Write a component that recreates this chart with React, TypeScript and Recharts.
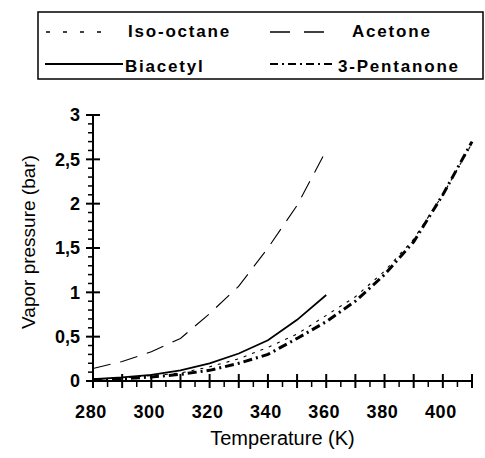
import React from "react";
import { LineChart, Line, XAxis, YAxis, Label } from "recharts";

// temperatures (K) at which the curves were read
const temperatures = [280, 290, 300, 310, 320, 330, 340, 350, 360, 370, 380, 390, 400, 410];

// vapor pressure (bar); null = no data
const isoOctane = [0.02, 0.035, 0.06, 0.09, 0.16, 0.25, 0.38, 0.53, 0.74, 0.95, 1.24, 1.6, 2.1, 2.68];
const acetone = [0.14, 0.22, 0.33, 0.48, 0.76, 1.07, 1.5, 1.98, 2.6, null, null, null, null, null];
const biacetyl = [0.02, 0.04, 0.07, 0.12, 0.2, 0.31, 0.46, 0.69, 0.97, null, null, null, null, null];
const pentanone = [0.01, 0.025, 0.045, 0.075, 0.12, 0.2, 0.3, 0.48, 0.67, 0.9, 1.2, 1.57, 2.1, 2.7];

const xTicks = [
  280, 285, 290, 295, 300, 305, 310, 315, 320, 325, 330, 335, 340, 345,
  350, 355, 360, 365, 370, 375, 380, 385, 390, 395, 400, 405, 410,
];
const xLabels = [280, 300, 320, 340, 360, 380, 400];
const yTicks = [
  0, 0.1, 0.2, 0.3, 0.4, 0.5, 0.6, 0.7, 0.8, 0.9, 1, 1.1, 1.2, 1.3, 1.4, 1.5,
  1.6, 1.7, 1.8, 1.9, 2, 2.1, 2.2, 2.3, 2.4, 2.5, 2.6, 2.7, 2.8, 2.9, 3,
];
const yLabels = ["0", "0,5", "1", "1,5", "2", "2,5", "3"];

const data = temperatures.map((t, i) => ({
  t,
  iso: isoOctane[i],
  acetone: acetone[i],
  biacetyl: biacetyl[i],
  pentanone: pentanone[i],
}));

const FONT = "'Liberation Sans', Arial, sans-serif";

const series = [
  { key: "iso", name: "Iso-octane", dash: "3 6", legendDash: "4 13", width: 1.1 },
  { key: "acetone", name: "Acetone", dash: "18 10", legendDash: "20 14", width: 1.1 },
  { key: "biacetyl", name: "Biacetyl", dash: undefined, legendDash: undefined, width: 1.8 },
  { key: "pentanone", name: "3-Pentanone", dash: "9 4 2 4", legendDash: "8 4 2 4", width: 3 },
];

const YTick = (props: any) => {
  const { x, y, payload } = props;
  const v = payload.value;
  const major = Math.abs(v * 2 - Math.round(v * 2)) < 1e-6;
  if (!major) {
    return <line x1={x - 5} x2={x} y1={y} y2={y} stroke="#000" strokeWidth={1.5} />;
  }
  return (
    <g>
      <line x1={x - 7} x2={x + 7} y1={y} y2={y} stroke="#000" strokeWidth={2} />
      <text
        x={x - 13}
        y={y}
        dy="0.36em"
        textAnchor="end"
        fontFamily={FONT}
        fontWeight="bold"
        fontSize={18}
        fill="#000"
      >
        {yLabels[Math.round(v * 2)]}
      </text>
    </g>
  );
};

const XTick = (props: any) => {
  const { x, y, payload } = props;
  const v = payload.value;
  const major = v % 10 === 0;
  return (
    <g>
      {major ? (
        <line x1={x} x2={x} y1={y - 7} y2={y + 7} stroke="#000" strokeWidth={2} />
      ) : (
        <line x1={x} x2={x} y1={y} y2={y + 6} stroke="#000" strokeWidth={1.5} />
      )}
      {xLabels.includes(v) && (
        <text
          x={x - 2}
          y={y + 37}
          textAnchor="middle"
          fontFamily={FONT}
          fontWeight="bold"
          fontSize={18}
          letterSpacing={0.6}
          fill="#000"
        >
          {v}
        </text>
      )}
    </g>
  );
};

function LegendBox() {
  const rows = [
    { s: series[0], x: 46, tx: 128, y: 32, ty: 37, len: 64 },
    { s: series[1], x: 270, tx: 352, y: 32, ty: 37, len: 60 },
    { s: series[2], x: 45, tx: 125, y: 64, ty: 72, len: 78 },
    { s: series[3], x: 270, tx: 338, y: 64, ty: 72, len: 64 },
  ];
  return (
    <svg width={485} height={90} style={{ position: "absolute", left: 0, top: 0 }}>
      <rect x={38} y={12} width={445} height={67} fill="none" stroke="#000" strokeWidth={1.5} />
      {rows.map((r) => (
        <g key={r.s.key}>
          <line
            x1={r.x}
            x2={r.x + r.len}
            y1={r.y}
            y2={r.y}
            stroke="#000"
            strokeWidth={r.s.key === "pentanone" ? 1.8 : r.s.width + 0.4}
            strokeDasharray={r.s.legendDash}
          />
          <text
            x={r.tx}
            y={r.ty}
            fontFamily={FONT}
            fontWeight="bold"
            fontSize={17}
            letterSpacing={1.8}
            fill="#000"
          >
            {r.s.name}
          </text>
        </g>
      ))}
    </svg>
  );
}

export default function App() {
  return (
    <div style={{ position: "absolute", left: 0, top: 0, width: 485, height: 458, background: "#fff" }}>
      <LineChart
        width={485}
        height={458}
        data={data}
        margin={{ top: 115, right: 13, bottom: 10, left: 0 }}
      >
        <XAxis
          dataKey="t"
          type="number"
          domain={[280, 410]}
          ticks={xTicks}
          interval={0}
          height={67}
          tickSize={0}
          tickMargin={0}
          tickLine={false}
          axisLine={{ stroke: "#000", strokeWidth: 2 }}
          tick={<XTick />}
        >
          <Label
            content={(p: any) => {
              const vb = p.viewBox;
              return (
                <text
                  x={vb.x + vb.width / 2}
                  y={vb.y + vb.height - 3}
                  textAnchor="middle"
                  fontFamily={FONT}
                  fontSize={20}
                  fill="#000"
                >
                  Temperature (K)
                </text>
              );
            }}
          />
        </XAxis>
        <YAxis
          type="number"
          domain={[0, 3]}
          ticks={yTicks}
          interval={0}
          width={93}
          tickSize={0}
          tickMargin={0}
          tickLine={false}
          axisLine={{ stroke: "#000", strokeWidth: 2 }}
          tick={<YTick />}
        >
          <Label
            content={(p: any) => {
              const vb = p.viewBox;
              const cx = vb.x + 28;
              const cy = vb.y + vb.height / 2 - 6;
              return (
                <text
                  x={cx}
                  y={cy}
                  transform={`rotate(-90 ${cx} ${cy})`}
                  textAnchor="middle"
                  dominantBaseline="central"
                  fontFamily={FONT}
                  fontSize={19}
                  fill="#000"
                >
                  Vapor pressure (bar)
                </text>
              );
            }}
          />
        </YAxis>
        {series.map((s) => (
          <Line
            key={s.key}
            type="linear"
            dataKey={s.key}
            name={s.name}
            stroke="#000"
            strokeWidth={s.width}
            strokeDasharray={s.dash}
            dot={false}
            activeDot={false}
            isAnimationActive={false}
          />
        ))}
      </LineChart>
      <LegendBox />
    </div>
  );
}
